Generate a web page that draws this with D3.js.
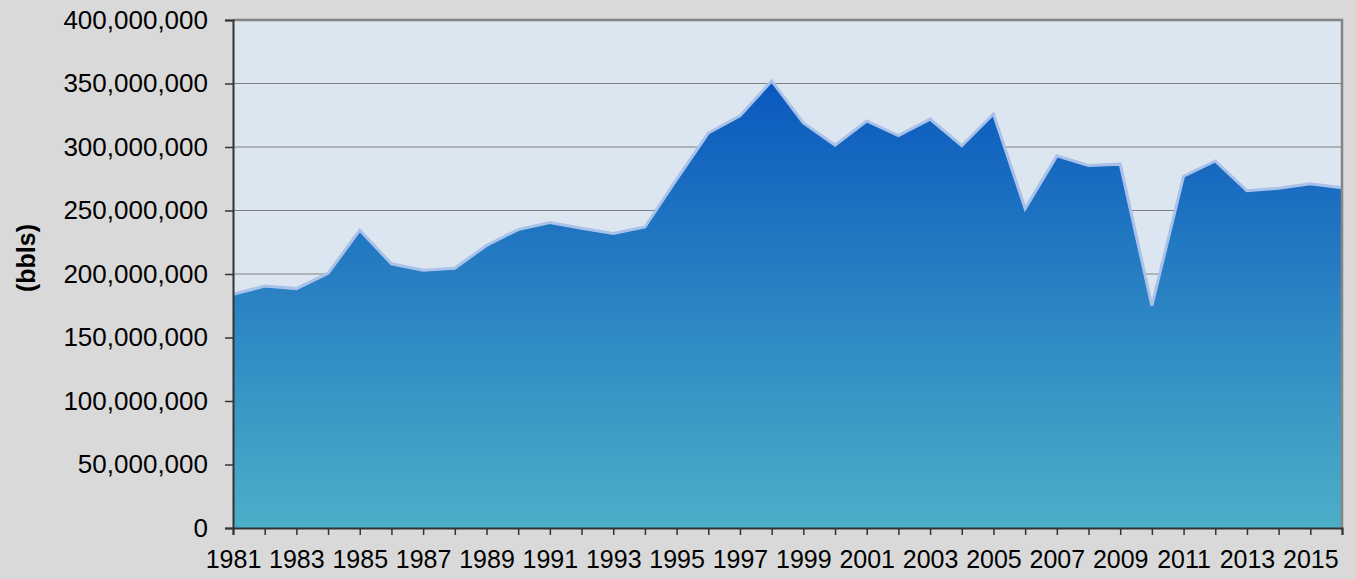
<!DOCTYPE html>
<html>
<head>
    <title>Production (bbls)</title>
    <script src="https://d3js.org/d3.v7.min.js"></script>
    <style>
        body { margin: 0; background: #d9d9d9; }
        text { font-family: "Liberation Sans", Arial, sans-serif; fill: #000; }
        .grid line { stroke: #808080; stroke-width: 1.2; }
    </style>
</head>
<body>
    <div id="chart"></div>
    <script>
        const years = d3.range(1981, 2017);
        // annual volume, barrels
        const volumes = [
            184e6, 190.5e6, 188.5e6, 200.5e6, 234.5e6, 208e6, 203e6, 204.5e6, 222.5e6, 235e6,
            240.5e6, 236e6, 232e6, 237e6, 274.5e6, 311e6, 324.5e6, 352e6, 319e6, 301.5e6,
            320.5e6, 309e6, 322e6, 301e6, 326e6, 251.5e6, 293e6, 285.5e6, 286.5e6, 175e6,
            277e6, 289e6, 265.5e6, 267.5e6, 271e6, 268e6
        ];
        const yTicks = d3.range(0, 400e6 + 1, 50e6);
        const xLabels = years.filter(y => y % 2 === 1);

        const width = 1356, height = 579;
        const margin = { top: 20, right: 14, bottom: 51, left: 233 };

        const svg = d3.select("#chart").append("svg")
            .attr("width", width)
            .attr("height", height);

        const x = d3.scaleLinear()
            .domain([1981, 2016])
            .range([margin.left, width - margin.right]);
        const y = d3.scaleLinear()
            .domain([0, 400e6])
            .range([height - margin.bottom, margin.top]);

        // plot background
        svg.append("rect")
            .attr("x", margin.left).attr("y", margin.top)
            .attr("width", x(2016) - margin.left)
            .attr("height", y(0) - margin.top)
            .attr("fill", "#dce6f1");

        // gridlines
        svg.append("g").attr("class", "grid")
            .selectAll("line")
            .data(yTicks.slice(1, -1))
            .join("line")
            .attr("x1", margin.left).attr("x2", x(2016))
            .attr("y1", d => y(d)).attr("y2", d => y(d));

        const grad = svg.append("defs").append("linearGradient")
            .attr("id", "fillGrad")
            .attr("gradientUnits", "userSpaceOnUse")
            .attr("x1", 0).attr("x2", 0)
            .attr("y1", y(d3.max(volumes))).attr("y2", y(0));
        grad.append("stop").attr("offset", 0).attr("stop-color", "#0a58be");
        grad.append("stop").attr("offset", 1).attr("stop-color", "#4cafc8");

        const pts = years.map((yr, i) => ({ yr, v: volumes[i] }));

        svg.append("path")
            .datum(pts)
            .attr("fill", "url(#fillGrad)")
            .attr("d", d3.area().x(d => x(d.yr)).y0(y(0)).y1(d => y(d.v)));

        svg.append("path")
            .datum(pts)
            .attr("fill", "none")
            .attr("stroke", "#a9c2e9")
            .attr("stroke-width", 3)
            .attr("stroke-linejoin", "miter")
            .attr("d", d3.line().x(d => x(d.yr)).y(d => y(d.v)));

        // top and right frame
        svg.append("path")
            .attr("fill", "none")
            .attr("stroke", "#858585")
            .attr("stroke-width", 2.5)
            .attr("d", `M${margin.left},${margin.top}H${x(2016)}V${y(0)}`);

        // y axis
        const yAxis = svg.append("g")
            .attr("transform", `translate(${margin.left},0)`)
            .call(d3.axisLeft(y).tickValues(yTicks).tickSize(8).tickPadding(17)
                .tickFormat(d3.format(",")));
        yAxis.selectAll("text").style("font-size", "26px");

        // x axis
        const xAxis = svg.append("g")
            .attr("transform", `translate(0,${y(0)})`)
            .call(d3.axisBottom(x).tickValues(years).tickSize(7).tickPadding(15)
                .tickFormat(d => xLabels.includes(d) ? d : ""));
        xAxis.selectAll("text").style("font-size", "25px");

        [yAxis, xAxis].forEach(g => {
            g.select(".domain").attr("stroke", "#333").attr("stroke-width", 2);
            g.selectAll(".tick line").attr("stroke", "#333").attr("stroke-width", 1.5);
        });

        svg.append("text")
            .attr("transform", `translate(35,258) rotate(-90)`)
            .attr("text-anchor", "middle")
            .style("font-size", "25px")
            .style("font-weight", "bold")
            .text("(bbls)");
    </script>
</body>
</html>
